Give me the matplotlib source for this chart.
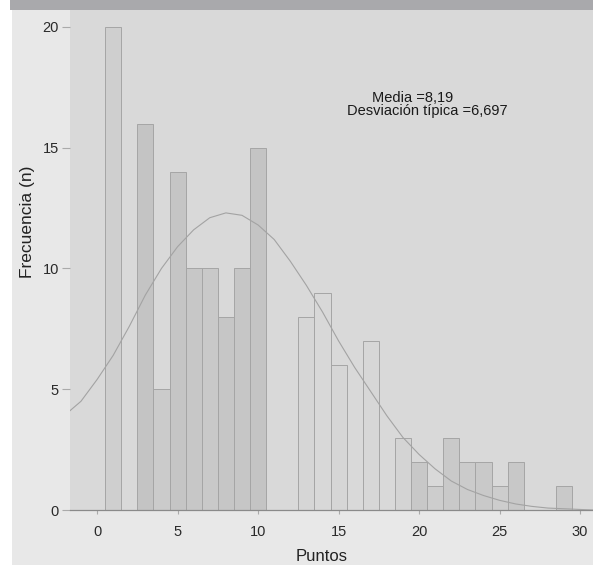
import numpy as np
import matplotlib
matplotlib.use('Agg')
import matplotlib.pyplot as plt
from matplotlib.patches import Rectangle

plt.rcParams['font.family'] = ['Liberation Sans', 'DejaVu Sans']

# datos del histograma (centro de clase, frecuencia)
puntos = [1, 3, 4, 5, 6, 7, 8, 9, 10, 13, 14, 15, 17, 19, 20, 21, 22, 23, 24, 25, 26, 29]
frecuencia = [20, 16, 5, 14, 10, 10, 8, 10, 15, 8, 9, 6, 7, 3, 2, 1, 3, 2, 2, 1, 2, 1]

# curva normal
curva_x = [-1.7, -1, 0, 1, 2, 3, 4, 5, 6, 7, 8, 9, 10, 11, 12, 13, 14, 15, 16,
           17, 18, 19, 20, 21, 22, 23, 24, 25, 26, 27, 28, 30.8]
curva_y = [4.1, 4.5, 5.4, 6.4, 7.6, 8.9, 10.0, 10.9, 11.6, 12.1, 12.3, 12.2, 11.8, 11.2, 10.3, 9.3,
           8.2, 7.0, 5.9, 4.9, 3.9, 3.0, 2.3, 1.7, 1.2, 0.85, 0.6, 0.4, 0.25, 0.15, 0.08, 0.0]

# tonos de cada barra (escaneo)
tonos = ['#cfcfcf', '#c4c4c4', '#cbcbcb', '#c5c5c5', '#c7c7c7', '#c9c9c9', '#c6c6c6', '#c6c6c6',
         '#c4c4c4', '#d6d6d6', '#d8d8d8', '#d6d6d6', '#d7d7d7', '#d4d4d4', '#c8c8c8', '#cdcdcd',
         '#c9c9c9', '#cbcbcb', '#c9c9c9', '#cdcdcd', '#c8c8c8', '#c9c9c9']

fig = plt.figure(figsize=(5.93, 5.71), dpi=100, facecolor='white')

# fondo y banda superior
fig.patches.append(Rectangle((12/593, 6/571), 581/593, 555/571, transform=fig.transFigure,
                             facecolor='#e8e8e8', edgecolor='none', zorder=-5))
fig.patches.append(Rectangle((10/593, 561/571), 583/593, 10/571, transform=fig.transFigure,
                             facecolor='#a9a9ac', edgecolor='none', zorder=-5))

ax = fig.add_axes([70/593, 61/571, 523/593, 500/571])
ax.set_facecolor('#d9d9d9')

ax.bar(puntos, frecuencia, width=1.0, color=tonos, edgecolor='#a5a5a5', linewidth=0.7, zorder=2)
ax.plot(curva_x, curva_y, color='#a3a3a3', linewidth=0.8, zorder=3)

ax.set_xlim(-1.68, 30.8)
ax.set_ylim(0, 20.7)
ax.set_xticks([0, 5, 10, 15, 20, 25, 30])
ax.set_yticks([0, 5, 10, 15, 20])

for s in ['top', 'right', 'left']:
    ax.spines[s].set_visible(False)
ax.spines['bottom'].set_color('#8a8a8a')
ax.spines['bottom'].set_linewidth(0.9)

ax.tick_params(axis='x', length=3, color='#aaaaaa', labelsize=10.5, pad=8, labelcolor='#2a2a2a')
ax.tick_params(axis='y', length=6, color='#aaaaaa', labelsize=10.5, pad=2, labelcolor='#2a2a2a')

ax.set_xlabel('Puntos', fontsize=12, color='#222222')
ax.xaxis.set_label_coords(0.482, -0.078)
ax.set_ylabel('Frecuencia (n)', fontsize=12.5, color='#222222')
ax.yaxis.set_label_coords(-0.066, 0.576)

ax.text(19.6, 17.06, 'Media =8,19', ha='center', va='center',
        fontsize=10.5, color='#1a1a1a', zorder=4)
ax.text(20.5, 16.5, 'Desviación típica =6,697', ha='center', va='center',
        fontsize=10.5, color='#1a1a1a', zorder=4)

fig.savefig('out.png', dpi=100, facecolor=fig.get_facecolor())
